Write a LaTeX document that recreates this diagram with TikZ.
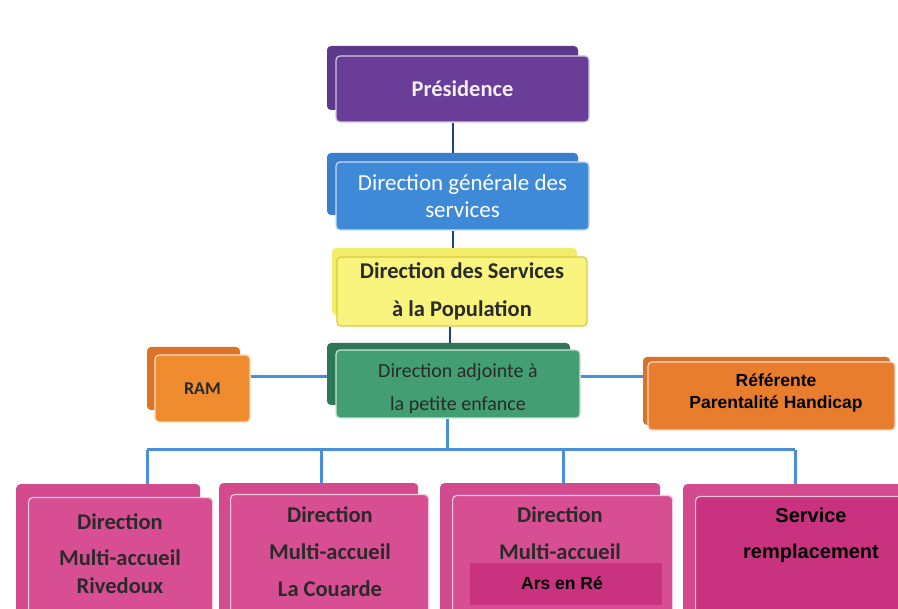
\documentclass[tikz,border=0pt]{standalone}
\usepackage{fontspec}
\newfontfamily\calfont{Carlito}
\newfontfamily\arifont{Liberation Sans}
\definecolor{purpB}{HTML}{5C3A8A}
\definecolor{purpF}{HTML}{6A3D98}
\definecolor{blueB}{HTML}{3A7FCC}
\definecolor{blueF}{HTML}{3F8AD8}
\definecolor{yelB}{HTML}{F3EC6A}
\definecolor{yelF}{HTML}{F8F47E}
\definecolor{yelD}{HTML}{D6CB3E}
\definecolor{grnB}{HTML}{2E7757}
\definecolor{grnF}{HTML}{449E74}
\definecolor{oraB}{HTML}{DC7326}
\definecolor{oraF}{HTML}{F08C30}
\definecolor{refC}{HTML}{E97D2E}
\definecolor{pinkB}{HTML}{D44A8E}
\definecolor{pinkF}{HTML}{D84E92}
\definecolor{pinkD}{HTML}{C8327F}
\definecolor{navy}{HTML}{22427E}
\definecolor{lblue}{HTML}{4A8FDC}
\definecolor{txt}{HTML}{2A2A2A}
\tikzset{
  backbox/.style={rounded corners=4pt, inner sep=0pt},
  frontbox/.style={rounded corners=4pt, inner sep=0pt, draw=white!70!#1, line width=1.2pt, fill=#1},
  upline/.style={draw=navy, line width=2pt},
  lowline/.style={draw=lblue, line width=3pt},
  lbl/.style={inner sep=0pt, align=center, text=txt},
}
\begin{document}
\begin{tikzpicture}[x=1pt,y=-1pt]
\useasboundingbox (0,0) rectangle (898,609);
\fill[white] (0,0) rectangle (898,609);
\begin{scope}
\clip (0,0) rectangle (898,609);
% Presidence
\node[backbox, fill=purpB, minimum width=251, minimum height=64] (presb) at (452.5,78) {};
\node[frontbox=purpF, minimum width=253, minimum height=66, text=white!92!purpF, font=\calfont\bfseries\fontsize{22.5}{26}\selectfont] (pres) at (462.5,89) {Présidence};
% DGS
\node[backbox, fill=blueB, minimum width=251, minimum height=62] (dgsb) at (452.5,184) {};
\node[frontbox=blueF, minimum width=253, minimum height=68, text=white, align=center, font=\calfont\fontsize{23}{27}\selectfont] (dgs) at (462.5,196) {Direction générale des\\services};
% DSP
\node[backbox, fill=yelB, minimum width=245, minimum height=67] (dspb) at (454.5,281.5) {};
\node[rounded corners=4pt, inner sep=0pt, draw=yelD, line width=1.2pt, fill=yelF, minimum width=250, minimum height=69, text=txt, align=center, font=\calfont\bfseries\fontsize{22.5}{38}\selectfont] (dsp) at (462,291.5) {Direction des Services\\à la Population};
% Direction adjointe
\node[backbox, fill=grnB, minimum width=243, minimum height=62] (grnb) at (448.5,374) {};
\node[frontbox=grnF, minimum width=244, minimum height=68] (grn) at (458,384) {};
\node[lbl, font=\calfont\fontsize{20}{33}\selectfont] (grnt) at (458,388.5) {Direction adjointe à\\la petite enfance};
% RAM
\node[backbox, fill=oraB, minimum width=93, minimum height=63] (ramb) at (193.5,378.5) {};
\node[frontbox=oraF, minimum width=95, minimum height=67, text=txt, font=\calfont\bfseries\fontsize{18}{20}\selectfont] (ram) at (202.5,388.5) {RAM};
% Referente
\node[backbox, fill=refC!92!black, minimum width=247, minimum height=68] (refb) at (766.5,391) {};
\node[frontbox=refC, minimum width=247, minimum height=68] (ref) at (771.5,396) {};
\node[lbl, text=black, font=\arifont\bfseries\fontsize{17.5}{22}\selectfont] (reft) at (776,393) {Référente\\Parentalité Handicap};
% upper connectors
\draw[upline] ([xshift=-9.5pt]pres.south) -- ([xshift=-9.5pt]pres.south |- dgsb.north);
\draw[upline] ([xshift=-9.5pt]dgs.south) -- ([xshift=-9.5pt]dgs.south |- dspb.north);
\draw[upline] ([xshift=-12pt]dsp.south) -- ([xshift=-12pt]dsp.south |- grnb.north);
\draw[lowline] (ram.east |- 0,377) -- (grnb.west |- 0,377);
\draw[lowline] (grn.east |- 0,377) -- (refb.west |- 0,377);
% pink boxes
\node[backbox, fill=pinkB, minimum width=184, minimum height=136, anchor=north west] (p1b) at (16,484) {};
\node[frontbox=pinkF, minimum width=184, minimum height=128, anchor=north west] (p1) at (28,497) {};
\node[backbox, fill=pinkB, minimum width=199, minimum height=137, anchor=north west] (p2b) at (219,483) {};
\node[frontbox=pinkF, minimum width=198, minimum height=131, anchor=north west] (p2) at (230,494) {};
\node[backbox, fill=pinkB, minimum width=220, minimum height=137, anchor=north west] (p3b) at (440,483) {};
\node[frontbox=pinkF, minimum width=220, minimum height=130, anchor=north west] (p3) at (452,495) {};
\node[backbox, fill=pinkB, minimum width=222, minimum height=136, anchor=north west] (p4b) at (683,484) {};
\node[frontbox=pinkD, minimum width=215, minimum height=129, anchor=north west] (p4) at (695,496) {};
\node[inner sep=0pt, fill=pinkD, minimum width=192, minimum height=42, anchor=north west] (p3r) at (470,563) {};
% pink texts
\node[lbl, font=\calfont\bfseries\fontsize{22.5}{36}\selectfont] (t1a) at (120,522) {Direction};
\node[lbl, font=\calfont\bfseries\fontsize{22.5}{28}\selectfont] (t1b) at (120,572) {Multi-accueil\\Rivedoux};
\node[lbl, font=\calfont\bfseries\fontsize{22.5}{37}\selectfont] (t2) at (330,552) {Direction\\Multi-accueil\\La Couarde};
\node[lbl, font=\calfont\bfseries\fontsize{22.5}{37}\selectfont] (t3) at (560,533.5) {Direction\\Multi-accueil};
\node[lbl, text=black, font=\arifont\bfseries\fontsize{17.5}{20}\selectfont] (t3c) at (562,583) {Ars en Ré};
\node[lbl, text=black, font=\arifont\bfseries\fontsize{20}{36}\selectfont] (t4) at (811,535) {Service\\remplacement};
% lower tree
\coordinate (bus) at (447,450);
\coordinate (d1) at (147,450);
\coordinate (d2) at (321,450);
\coordinate (d3) at (563,450);
\coordinate (d4) at (795,450);
\draw[lowline] (grn.south -| bus) -- (bus);
\draw[lowline] (d1) -- (d4);
\draw[lowline] (d1) -- (d1 |- p1b.north);
\draw[lowline] (d2) -- (d2 |- p2b.north);
\draw[lowline] (d3) -- (d3 |- p3b.north);
\draw[lowline] (d4) -- (d4 |- p4b.north);
\end{scope}
\end{tikzpicture}
\end{document}
